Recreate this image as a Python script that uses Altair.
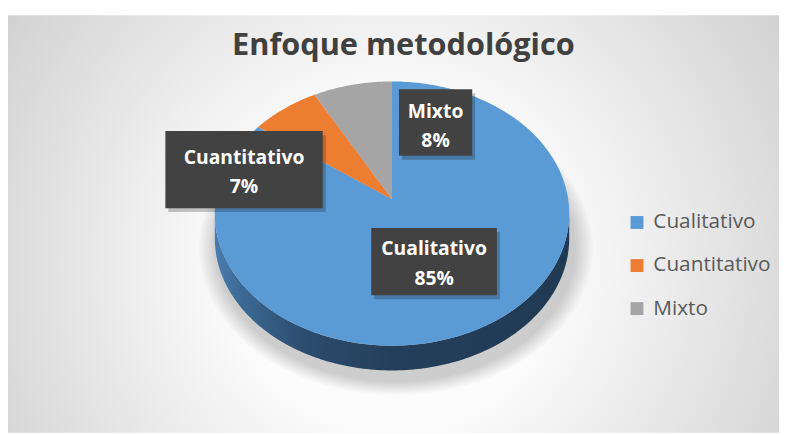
import numpy as np
import pandas as pd
import altair as alt

# ---------------- data ----------------
categories = ["Cualitativo", "Cuantitativo", "Mixto"]
values = [85, 7, 8]
colors = ["#5b9bd5", "#ed7d31", "#a5a5a5"]
title_text = "Enfoque metodológico"

# ---------------- layout (plot-area pixel space) ----------------
W, H = 779, 422
CX, CY = 388.0, 186.0          # projected centre of the pie top
A, B, K = 178.0, 131.9, 0.1086  # perspective ellipse parameters
DEPTH = 25.0

# label boxes: x0, x1, y0, y1, y of name line, y of percent line
LABEL_LAYOUT = {
    "Cualitativo": (367, 494, 215, 283, 236, 267),
    "Cuantitativo": (159, 318, 117, 195, 144, 174),
    "Mixto": (395, 469, 75, 142, 98, 127),
}


def project(u, v):
    w = 1.0 - K * v
    return CX + A * u / w, CY + B * v / w


total = float(sum(values))
fracs = np.array(values, dtype=float) / total
ends = np.cumsum(fracs)
starts = ends - fracs

# pie top slices (angle clockwise from 12 o'clock)
rows = []
for cat, s, e in zip(categories, starts, ends):
    n = max(8, int(np.ceil((e - s) * 360)))
    px, py = project(0.0, 0.0)
    rows.append(dict(cat=cat, o=0, x=px, y=py))
    th = 2 * np.pi * np.linspace(s, e, n + 1)
    xs, ys = project(np.sin(th), -np.cos(th))
    for j, (a_, b_) in enumerate(zip(xs, ys)):
        rows.append(dict(cat=cat, o=j + 1, x=float(a_), y=float(b_)))
slices = pd.DataFrame(rows)

# front side of the cylinder
phi0 = np.arccos(K)
phi = np.linspace(-phi0, phi0, 161)
sx, sy = project(np.sin(phi), np.cos(phi))
side = pd.DataFrame(dict(x=sx, y=sy, y2=sy + DEPTH))

# soft shadow rings
t = np.linspace(0, 2 * np.pi, 241)
ex, ey = project(np.sin(t), -np.cos(t))
ecx, ecy = CX, CY + B * K / (1 - K * K)
ring_rows = []
for i in range(8):
    g = 1 + 0.11 * (1 - i / 8)
    rx_ = ecx + (ex - ecx) * g + 4
    ry_ = ecy + DEPTH + 10 + (ey - ecy) * g
    for j, (a_, b_) in enumerate(zip(rx_, ry_)):
        ring_rows.append(dict(ring=i, o=j, x=float(a_), y=float(b_)))
rings = pd.DataFrame(ring_rows)

# labels
lab = pd.DataFrame(dict(cat=categories,
                        pct=[f"{round(v / total * 100)}%" for v in values]))
lab["x0"] = [LABEL_LAYOUT[c][0] for c in categories]
lab["x1"] = [LABEL_LAYOUT[c][1] for c in categories]
lab["y0"] = [LABEL_LAYOUT[c][2] for c in categories]
lab["y1"] = [LABEL_LAYOUT[c][3] for c in categories]
lab["ny"] = [LABEL_LAYOUT[c][4] for c in categories]
lab["py"] = [LABEL_LAYOUT[c][5] for c in categories]
lab["xc"] = (lab["x0"] + lab["x1"]) / 2
lab["sx0"] = lab["x0"] + 3
lab["sx1"] = lab["x1"] + 3
lab["sy0"] = lab["y0"] + 4
lab["sy1"] = lab["y1"] + 4

XS = alt.Scale(domain=[0, W], nice=False, zero=False)
YS = alt.Scale(domain=[0, H], nice=False, zero=False, reverse=True)
X = alt.X("x:Q", scale=XS, axis=None)
Y = alt.Y("y:Q", scale=YS, axis=None)

bg = alt.Chart(pd.DataFrame({"k": [0]})).mark_rect(
    fill=alt.RadialGradient(
        gradient="radial",
        stops=[alt.GradientStop(color="#ffffff", offset=0),
               alt.GradientStop(color="#fbfbfb", offset=0.3),
               alt.GradientStop(color="#c4c4c4", offset=1)],
        x1=0.5, y1=0.55, r1=0, x2=0.5, y2=0.55, r2=0.72)
).encode(x=alt.value(0), x2=alt.value(W), y=alt.value(0), y2=alt.value(H))

shadow = alt.Chart(rings).mark_line(filled=True, color="#000000", opacity=0.022).encode(
    x=X, y=Y, order="o:Q", detail="ring:N")

side_layer = alt.Chart(side).mark_area(
    color=alt.LinearGradient(
        gradient="linear",
        stops=[alt.GradientStop(color="#4a7db0", offset=0),
               alt.GradientStop(color="#3b6893", offset=0.08),
               alt.GradientStop(color="#2c4d6e", offset=0.25),
               alt.GradientStop(color="#243f5b", offset=0.5),
               alt.GradientStop(color="#213a54", offset=1)],
        x1=0, x2=1, y1=0, y2=0)
).encode(x=X, y=Y, y2=alt.Y2("y2:Q"))

pie = alt.Chart(slices).mark_line(filled=True).encode(
    x=X, y=Y, order="o:Q",
    color=alt.Color("cat:N", scale=alt.Scale(domain=categories, range=colors),
                    legend=alt.Legend(title=None, orient="none", legendX=625, legendY=199,
                                      symbolType="square", symbolSize=169, symbolStrokeWidth=0,
                                      labelFont="Open Sans", labelFontSize=21, labelColor="#595959",
                                      rowPadding=21.5, labelOffset=6, padding=0)))

box_shadow = alt.Chart(lab).mark_rect(color="#000000", opacity=0.22).encode(
    x=alt.X("sx0:Q", scale=XS, axis=None), x2="sx1:Q",
    y=alt.Y("sy0:Q", scale=YS, axis=None), y2="sy1:Q")

boxes = alt.Chart(lab).mark_rect(color="#424242").encode(
    x=alt.X("x0:Q", scale=XS, axis=None), x2="x1:Q",
    y=alt.Y("y0:Q", scale=YS, axis=None), y2="y1:Q")

txt = dict(font="Open Sans", fontWeight="bold", fontSize=19.5, color="#ffffff",
           align="center", baseline="middle")
names = alt.Chart(lab).mark_text(**txt).encode(
    x=alt.X("xc:Q", scale=XS, axis=None),
    y=alt.Y("ny:Q", scale=YS, axis=None),
    text="cat:N")
pcts = alt.Chart(lab).mark_text(**txt).encode(
    x=alt.X("xc:Q", scale=XS, axis=None),
    y=alt.Y("py:Q", scale=YS, axis=None),
    text="pct:N")

chart = alt.layer(bg, shadow, side_layer, pie, box_shadow, boxes, names, pcts).properties(
    width=W, height=H,
    title=alt.TitleParams(text=title_text, font="Open Sans", fontSize=31, fontWeight="bold",
                          color="#404040", anchor="middle", frame="group", offset=-40,
                          baseline="alphabetic", dx=10, dy=31),
    padding={"left": 0, "top": 5, "right": 0, "bottom": 0},
    autosize="none",
    background="#ffffff",
).configure_view(stroke=None)

chart.save("out.html", embed_options={"renderer": "svg", "actions": False})
